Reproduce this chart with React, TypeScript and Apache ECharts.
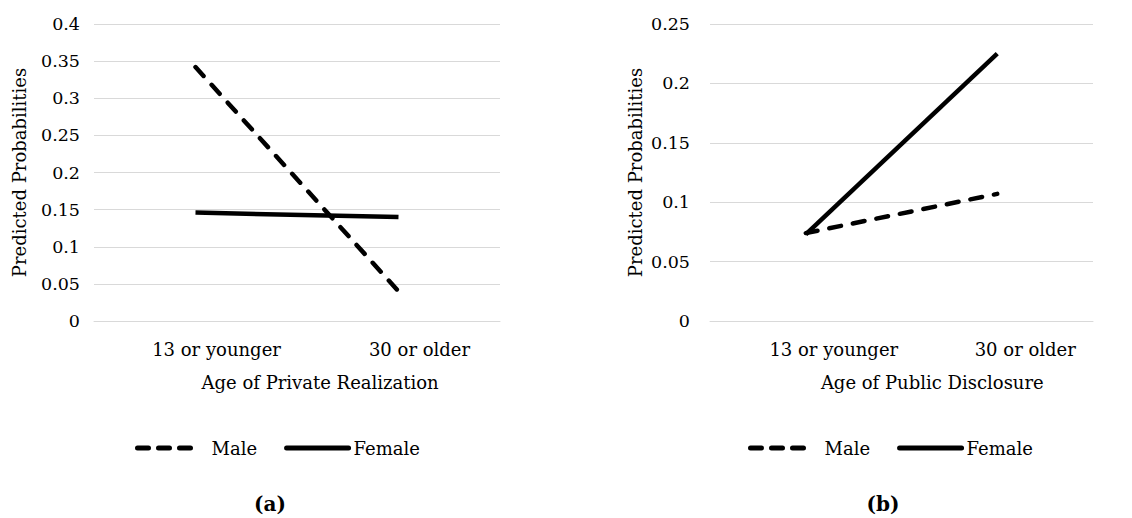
import React, { useEffect, useRef } from "react";
import * as echarts from "echarts";

const categories = ["13 or younger", "30 or older"];
const maleA = [0.342, 0.04];
const femaleA = [0.146, 0.14];
const maleB = [0.074, 0.107];
const femaleB = [0.073, 0.225];
const xTitleA = "Age of Private Realization";
const xTitleB = "Age of Public Disclosure";
const yTitle = "Predicted Probabilities";
const panelLabels = ["(a)", "(b)"];

const FONT = "DejaVu Serif";
const GRID_COLOR = "#d9d9d9";

export default function App() {
  const ref = useRef<HTMLDivElement>(null);
  useEffect(() => {
    if (!ref.current) return;
    const chart = echarts.init(ref.current, null, { renderer: "svg" });
    const fmt = (v: number) => String(+v.toFixed(2));
    const xAxisBase = (idx: number, title: string, shift: number) => ({
      type: "category",
      gridIndex: idx,
      data: categories,
      boundaryGap: true,
      axisLine: { show: true, lineStyle: { color: GRID_COLOR, width: 1 } },
      axisTick: { show: false },
      axisLabel: {
        fontFamily: FONT,
        fontSize: 18,
        color: "#000",
        margin: 19,
        padding: [0, 0, 0, shift],
      },
      name: title,
      nameLocation: "middle",
      nameGap: 52,
      nameTextStyle: {
        fontFamily: FONT,
        fontSize: 18,
        color: "#000",
        padding: [0, 0, 0, shift * 1.1],
      },
    });
    const yAxisBase = (idx: number, max: number, margin: number) => ({
      type: "value",
      gridIndex: idx,
      min: 0,
      max,
      interval: 0.05,
      axisLine: { show: false },
      axisTick: { show: false },
      splitLine: { show: true, lineStyle: { color: GRID_COLOR, width: 1 } },
      axisLabel: {
        fontFamily: FONT,
        fontSize: 17.5,
        color: "#000",
        margin,
        formatter: fmt,
      },
      name: yTitle,
      nameLocation: "middle",
      nameGap: 66,
      nameTextStyle: { fontFamily: FONT, fontSize: 18, color: "#000" },
    });
    const dashChart = [12, 12];
    const lineSeries = (
      name: string,
      idx: number,
      data: number[],
      dashed: boolean
    ) => ({
      type: "line",
      name,
      xAxisIndex: idx,
      yAxisIndex: idx,
      data,
      symbol: "none",
      lineStyle: {
        color: "#000",
        width: 4.5,
        type: dashed ? dashChart : "solid",
        cap: dashed ? "round" : "butt",
      },
      itemStyle: { color: "#000" },
    });
    const hiddenSymbol = { color: "rgba(0,0,0,0)", opacity: 0, borderWidth: 0 };
    const legendData = [
      {
        name: "Male",
        lineStyle: { color: "#000", width: 5, type: [11, 10], cap: "round" },
        itemStyle: hiddenSymbol,
        textStyle: { padding: [0, 0, 0, 7] },
      },
      {
        name: "Female",
        lineStyle: { color: "#000", width: 5, type: "solid", cap: "round" },
        itemStyle: hiddenSymbol,
      },
    ];
    const legendBase = (left: number) => ({
      left,
      top: 434,
      orient: "horizontal",
      itemWidth: 62,
      itemHeight: 12,
      itemGap: 27,
      itemStyle: hiddenSymbol,
      textStyle: { fontFamily: FONT, fontSize: 18, color: "#000" },
      data: legendData,
      selectedMode: false,
    });
    chart.setOption({
      animation: false,
      backgroundColor: "#fff",
      textStyle: { fontFamily: FONT },
      grid: [
        { left: 94, top: 24, width: 406, height: 297 },
        { left: 710, top: 24, width: 383, height: 297 },
      ],
      xAxis: [xAxisBase(0, xTitleA, 42), xAxisBase(1, xTitleB, 56)],
      yAxis: [yAxisBase(0, 0.4, 14), yAxisBase(1, 0.25, 20)],
      legend: [legendBase(130), legendBase(743)],
      series: [
        lineSeries("Male", 0, maleA, true),
        lineSeries("Female", 0, femaleA, false),
        lineSeries("Male", 1, maleB, true),
        lineSeries("Female", 1, femaleB, false),
      ],
      graphic: panelLabels.map((t, i) => ({
        type: "text",
        x: i === 0 ? 270 : 883,
        y: 504,
        style: {
          text: t,
          fontFamily: FONT,
          fontSize: 20,
          fontWeight: "bold",
          fill: "#000",
          textAlign: "center",
          textVerticalAlign: "middle",
        },
      })),
    });
    return () => chart.dispose();
  }, []);
  return (
    <div
      ref={ref}
      style={{
        position: "fixed",
        left: 0,
        top: 0,
        width: 1132,
        height: 518,
        background: "#fff",
      }}
    />
  );
}
